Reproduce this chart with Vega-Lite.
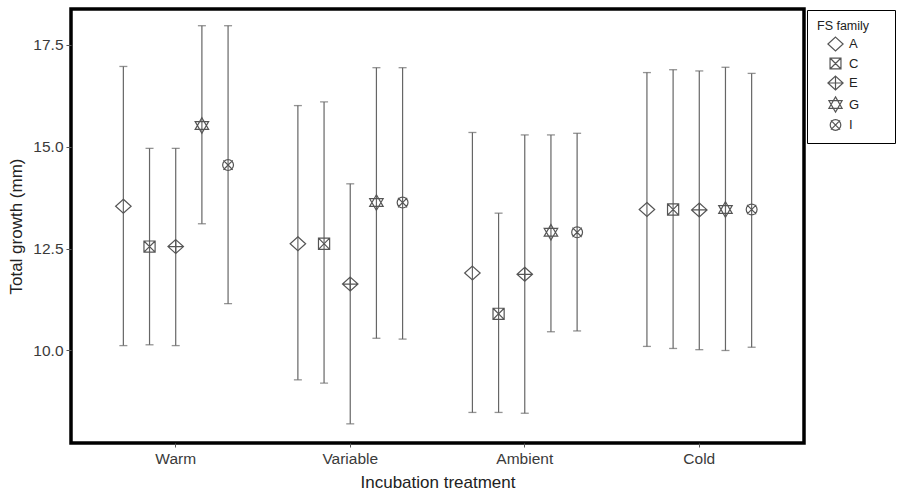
{
  "$schema": "https://vega.github.io/schema/vega-lite/v6.json",
  "width": 733,
  "height": 434,
  "autosize": {"type": "none"},
  "padding": {"left": 71, "top": 9, "right": 94, "bottom": 53},
  "background": "white",
  "config": {
    "font": "Liberation Sans",
    "view": {"stroke": "black", "strokeWidth": 3.5},
    "axis": {"domain": false, "grid": false, "tickColor": "#555", "labelColor": "#3a3a3a", "titleColor": "#222", "labelFontSize": 15.5, "titleFontSize": 17, "titleFontWeight": "normal"},
    "legend": {"strokeColor": "black"}
  },
  "data": {
    "values": [
      {"treatment": "Warm", "family": "A", "mean": 13.54, "lower": 10.12, "upper": 16.97},
      {"treatment": "Warm", "family": "C", "mean": 12.55, "lower": 10.14, "upper": 14.96},
      {"treatment": "Warm", "family": "E", "mean": 12.55, "lower": 10.12, "upper": 14.96},
      {"treatment": "Warm", "family": "G", "mean": 15.52, "lower": 13.11, "upper": 17.97},
      {"treatment": "Warm", "family": "I", "mean": 14.55, "lower": 11.15, "upper": 17.97},
      {"treatment": "Variable", "family": "A", "mean": 12.62, "lower": 9.28, "upper": 16.01},
      {"treatment": "Variable", "family": "C", "mean": 12.62, "lower": 9.2, "upper": 16.1},
      {"treatment": "Variable", "family": "E", "mean": 11.63, "lower": 8.2, "upper": 14.09},
      {"treatment": "Variable", "family": "G", "mean": 13.63, "lower": 10.3, "upper": 16.94},
      {"treatment": "Variable", "family": "I", "mean": 13.63, "lower": 10.28, "upper": 16.94},
      {"treatment": "Ambient", "family": "A", "mean": 11.9, "lower": 8.48, "upper": 15.35},
      {"treatment": "Ambient", "family": "C", "mean": 10.9, "lower": 8.48, "upper": 13.37},
      {"treatment": "Ambient", "family": "E", "mean": 11.87, "lower": 8.46, "upper": 15.29},
      {"treatment": "Ambient", "family": "G", "mean": 12.9, "lower": 10.46, "upper": 15.29},
      {"treatment": "Ambient", "family": "I", "mean": 12.9, "lower": 10.48, "upper": 15.33},
      {"treatment": "Cold", "family": "A", "mean": 13.46, "lower": 10.1, "upper": 16.82},
      {"treatment": "Cold", "family": "C", "mean": 13.46, "lower": 10.05, "upper": 16.89},
      {"treatment": "Cold", "family": "E", "mean": 13.45, "lower": 10.02, "upper": 16.86},
      {"treatment": "Cold", "family": "G", "mean": 13.46, "lower": 10.0, "upper": 16.95},
      {"treatment": "Cold", "family": "I", "mean": 13.46, "lower": 10.08, "upper": 16.8}
    ]
  },
  "encoding": {
    "x": {
      "field": "treatment", "type": "nominal", "sort": ["Warm", "Variable", "Ambient", "Cold"],
      "scale": {"type": "band", "paddingInner": 0.25, "paddingOuter": 0.225},
      "axis": {"title": "Incubation treatment", "labelAngle": 0, "tickSize": 4, "labelPadding": 4, "titlePadding": 8}
    },
    "xOffset": {
      "field": "family", "type": "nominal", "sort": ["A", "C", "E", "G", "I"],
      "scale": {"type": "band", "paddingInner": 0, "paddingOuter": 0}
    }
  },
  "layer": [
    {
      "mark": {"type": "rule", "color": "#666", "strokeWidth": 1.2},
      "encoding": {
        "y": {"field": "lower", "type": "quantitative",
          "scale": {"domain": [7.73, 18.38], "nice": false, "zero": false},
          "axis": {"title": "Total growth (mm)", "values": [10, 12.5, 15, 17.5], "format": ".1f", "tickSize": 5, "labelPadding": 3, "titlePadding": 7}},
        "y2": {"field": "upper"}
      }
    },
    {
      "mark": {"type": "tick", "color": "#666", "size": 8, "thickness": 1.3, "orient": "horizontal"},
      "encoding": {"y": {"field": "lower", "type": "quantitative"}}
    },
    {
      "mark": {"type": "tick", "color": "#666", "size": 8, "thickness": 1.3, "orient": "horizontal"},
      "encoding": {"y": {"field": "upper", "type": "quantitative"}}
    },
    {
      "mark": {"type": "point", "filled": false, "color": "#555", "strokeWidth": 1.2, "size": 240, "opacity": 1},
      "encoding": {
        "y": {"field": "mean", "type": "quantitative"},
        "shape": {
          "field": "family", "type": "nominal",
          "scale": {
            "domain": ["A", "C", "E", "G", "I"],
            "range": [
              "M0,-0.9L1,0L0,0.9L-1,0Z",
              "M-0.72,-0.72H0.72V0.72H-0.72ZM-0.72,-0.72L0.72,0.72M-0.72,0.72L0.72,-0.72",
              "M0,-0.9L1,0L0,0.9L-1,0ZM0,-0.9V0.9M-1,0H1",
              "M0,-1L0.87,0.5H-0.87ZM0,1L0.87,-0.5H-0.87Z",
              "M-0.7,0A0.7,0.7 0 1,0 0.7,0A0.7,0.7 0 1,0 -0.7,0ZM-0.6,-0.6L0.6,0.6M-0.6,0.6L0.6,-0.6"
            ]
          },
          "legend": {
            "title": "FS family",
            "orient": "none", "legendX": 736, "legendY": 1,
            "padding": 10, "titleFontSize": 12.5, "titleFontWeight": "normal", "titleColor": "#222", "titlePadding": 3,
            "labelFontSize": 13, "labelColor": "#222", "symbolSize": 230,
            "symbolStrokeColor": "#555", "symbolFillColor": "transparent", "symbolStrokeWidth": 1.2,
            "symbolOffset": 10, "labelOffset": 5, "rowPadding": 1.5,
            "labelExpr": "datum.label + '\u00a0\u00a0\u00a0\u00a0\u00a0\u00a0\u00a0\u200b'",
            "encode": {"legend": {"update": {"strokeWidth": {"value": 2.5}}}}
          }
        }
      }
    }
  ]
}
